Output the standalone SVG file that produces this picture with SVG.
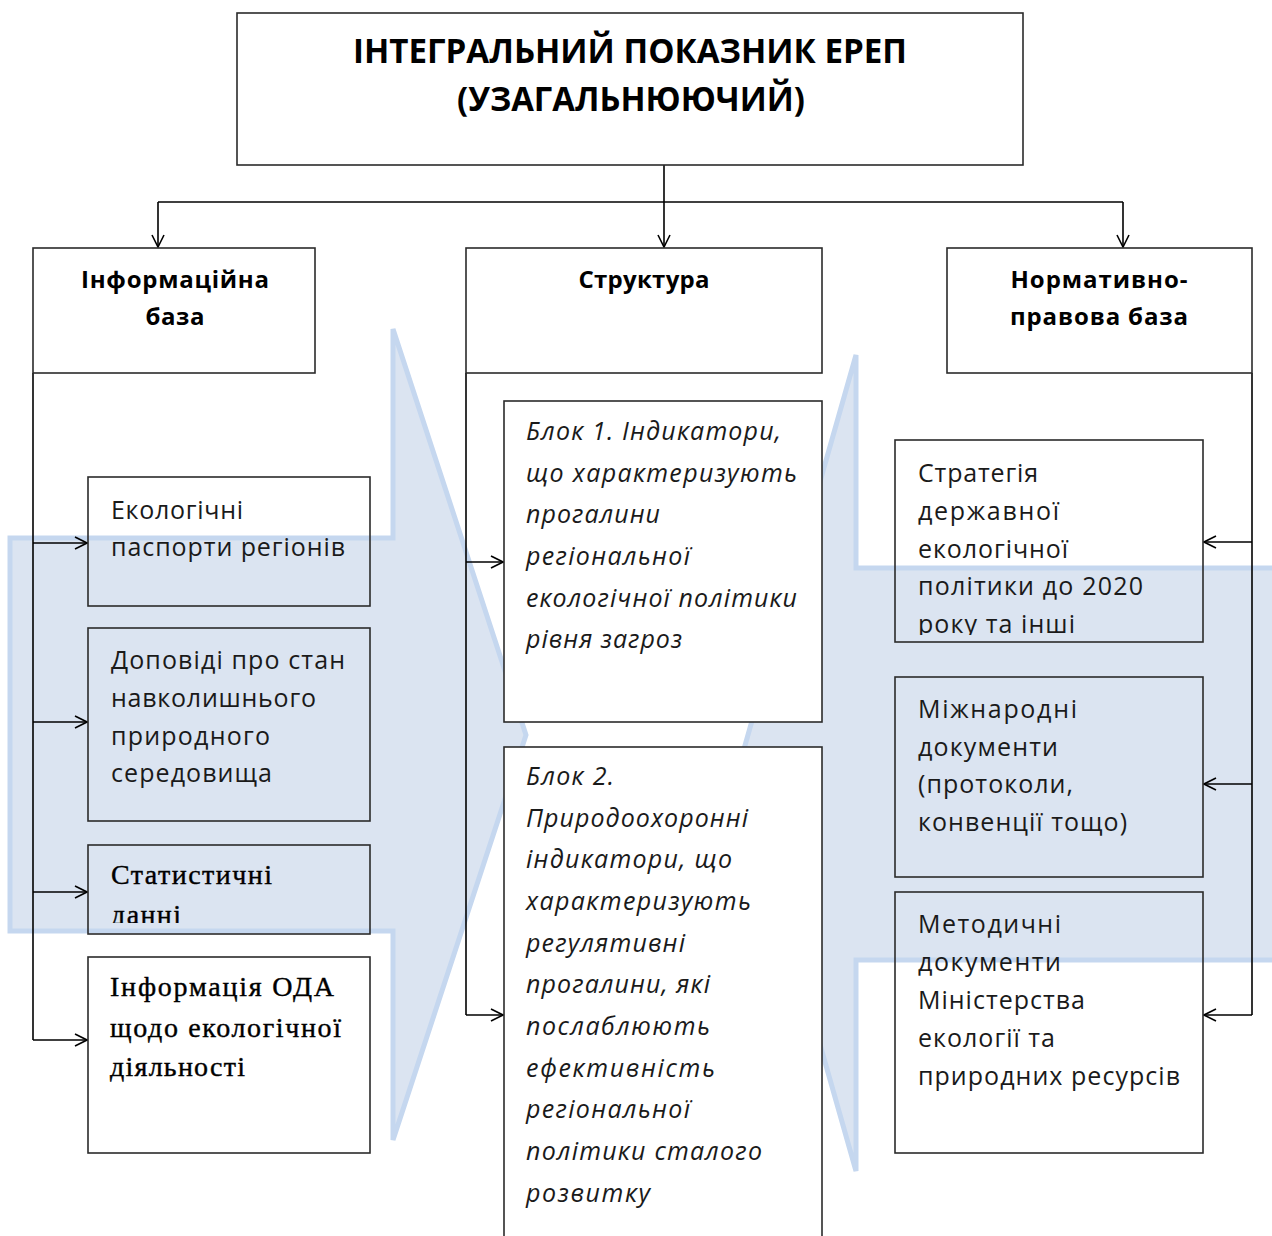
<svg xmlns="http://www.w3.org/2000/svg" width="1272" height="1236" viewBox="0 0 1272 1236">
<style>
.bg{fill:#ffffff}
.big{fill:#dbe4f1;stroke:#c5d7ef;stroke-width:5;stroke-linejoin:miter}
.box{fill:none;stroke:#2b2b2b;stroke-width:1.6}
.wbox{fill:#ffffff;stroke:#2b2b2b;stroke-width:1.6}
.ln{fill:none;stroke:#000;stroke-width:1.6}
.title{font-family:"Open Sans","Liberation Sans",sans-serif;font-weight:bold;font-size:34px;fill:#000}
.hd{font-family:"Open Sans","Liberation Sans",sans-serif;font-weight:bold;font-size:24px;fill:#000}
.tx{font-family:"Open Sans","Liberation Sans",sans-serif;font-size:25px;fill:#1a1a1a}
.it{font-family:"Open Sans","Liberation Sans",sans-serif;font-style:italic;font-size:25px;fill:#1a1a1a}
.sr{font-family:"Liberation Serif","Times New Roman",serif;font-size:28px;fill:#000;stroke:#000;stroke-width:0.4}
</style>
<defs>
<marker id="ah" viewBox="0 0 14 14" refX="13" refY="7" markerWidth="14" markerHeight="14" markerUnits="userSpaceOnUse" orient="auto">
<path d="M1,1 L13,7 L1,13" fill="none" stroke="#000" stroke-width="1.6"/>
</marker>
<clipPath id="clipStat"><rect x="88" y="845" width="282" height="78"/></clipPath>
<clipPath id="clipStrat"><rect x="895" y="440" width="308" height="195"/></clipPath>
</defs>
<rect class="bg" x="0" y="0" width="1272" height="1236"/>

<g id="big-arrows">
<path class="big" d="M10,538 H393 V329 L526,735 L393,1140 V931 H10 Z"/>
<path class="big" d="M1280,568 H856 V355 L740,763 L856,1171 V960 H1280 Z"/>
</g>

<g id="connectors">
<path class="ln" d="M664,165 V247" marker-end="url(#ah)"/>
<path class="ln" d="M158,202 H1123"/>
<path class="ln" d="M158,202 V247" marker-end="url(#ah)"/>
<path class="ln" d="M1123,202 V247" marker-end="url(#ah)"/>
<path class="ln" d="M33,373 V1040"/>
<path class="ln" d="M33,543 H87" marker-end="url(#ah)"/>
<path class="ln" d="M33,722 H87" marker-end="url(#ah)"/>
<path class="ln" d="M33,892 H87" marker-end="url(#ah)"/>
<path class="ln" d="M33,1040 H87" marker-end="url(#ah)"/>
<path class="ln" d="M466,373 V1015"/>
<path class="ln" d="M466,562 H503" marker-end="url(#ah)"/>
<path class="ln" d="M466,1015 H503" marker-end="url(#ah)"/>
<path class="ln" d="M1252,373 V1015"/>
<path class="ln" d="M1252,542 H1204" marker-end="url(#ah)"/>
<path class="ln" d="M1252,784 H1204" marker-end="url(#ah)"/>
<path class="ln" d="M1252,1015 H1204" marker-end="url(#ah)"/>
</g>

<g id="node-title">
<rect class="wbox" x="237" y="13" width="786" height="152"/>
<text class="title" x="630" y="63" text-anchor="middle" textLength="554" lengthAdjust="spacingAndGlyphs">ІНТЕГРАЛЬНИЙ ПОКАЗНИК ЕРЕП</text>
<text class="title" x="631" y="111" text-anchor="middle" textLength="348" lengthAdjust="spacingAndGlyphs">(УЗАГАЛЬНЮЮЧИЙ)</text>
</g>

<g id="node-info">
<rect class="wbox" x="33" y="248" width="282" height="125"/>
<text class="hd" x="175" y="288" text-anchor="middle" textLength="188">Інформаційна</text>
<text class="hd" x="175" y="325" text-anchor="middle" textLength="59">база</text>
</g>

<g id="node-struct">
<rect class="wbox" x="466" y="248" width="356" height="125"/>
<text class="hd" x="644" y="288" text-anchor="middle" textLength="131">Структура</text>
</g>

<g id="node-norm">
<rect class="wbox" x="947" y="248" width="305" height="125"/>
<text class="hd" x="1099" y="288" text-anchor="middle" textLength="177">Нормативно-</text>
<text class="hd" x="1099" y="325" text-anchor="middle" textLength="178">правова база</text>
</g>

<g id="node-eco">
<rect class="box" x="88" y="477" width="282" height="129"/>
<text class="tx" x="111" y="519" textLength="132">Екологічні</text>
<text class="tx" x="111" y="556" textLength="234">паспорти регіонів</text>
</g>

<g id="node-dop">
<rect class="box" x="88" y="628" width="282" height="193"/>
<text class="tx" x="111" y="669" textLength="234">Доповіді про стан</text>
<text class="tx" x="111" y="707" textLength="205">навколишнього</text>
<text class="tx" x="111" y="745" textLength="159">природного</text>
<text class="tx" x="111" y="782" textLength="161">середовища</text>
</g>

<g id="node-stat">
<rect class="box" x="88" y="845" width="282" height="89"/>
<g clip-path="url(#clipStat)">
<text class="sr" x="111" y="884" textLength="161">Статистичні</text>
<text class="sr" x="111" y="924" textLength="70">данні</text>
</g>
</g>

<g id="node-oda">
<rect class="wbox" x="88" y="957" width="282" height="196"/>
<text class="sr" x="110" y="996" textLength="224">Інформація ОДА</text>
<text class="sr" x="110" y="1037" textLength="231">щодо екологічної</text>
<text class="sr" x="110" y="1076" textLength="135">діяльності</text>
</g>

<g id="node-blok1">
<rect class="wbox" x="504" y="401" width="318" height="321"/>
<text class="it" x="526" y="440" textLength="255">Блок 1. Індикатори,</text>
<text class="it" x="526" y="482" textLength="271">що характеризують</text>
<text class="it" x="526" y="523" textLength="134">прогалини</text>
<text class="it" x="526" y="565" textLength="164">регіональної</text>
<text class="it" x="526" y="607" textLength="271">екологічної політики</text>
<text class="it" x="526" y="648" textLength="156">рівня загроз</text>
</g>

<g id="node-blok2">
<rect class="wbox" x="504" y="747" width="318" height="500"/>
<text class="it" x="526" y="785" textLength="88">Блок 2.</text>
<text class="it" x="526" y="827" textLength="222">Природоохоронні</text>
<text class="it" x="526" y="868" textLength="206">індикатори, що</text>
<text class="it" x="526" y="910" textLength="225">характеризують</text>
<text class="it" x="526" y="952" textLength="159">регулятивні</text>
<text class="it" x="526" y="993" textLength="184">прогалини, які</text>
<text class="it" x="526" y="1035" textLength="184">послаблюють</text>
<text class="it" x="526" y="1077" textLength="189">ефективність</text>
<text class="it" x="526" y="1118" textLength="164">регіональної</text>
<text class="it" x="526" y="1160" textLength="236">політики сталого</text>
<text class="it" x="526" y="1202" textLength="124">розвитку</text>
</g>

<g id="node-strat">
<rect class="box" x="895" y="440" width="308" height="202"/>
<g clip-path="url(#clipStrat)">
<text class="tx" x="918" y="482" textLength="120">Стратегія</text>
<text class="tx" x="918" y="520" textLength="141">державної</text>
<text class="tx" x="918" y="558" textLength="150">екологічної</text>
<text class="tx" x="918" y="595" textLength="225">політики до 2020</text>
<text class="tx" x="918" y="633" textLength="157">року та інші</text>
</g>
</g>

<g id="node-mizh">
<rect class="box" x="895" y="677" width="308" height="200"/>
<text class="tx" x="918" y="718" textLength="159">Міжнародні</text>
<text class="tx" x="918" y="756" textLength="140">документи</text>
<text class="tx" x="918" y="793" textLength="155">(протоколи,</text>
<text class="tx" x="918" y="831" textLength="209">конвенції тощо)</text>
</g>

<g id="node-metod">
<rect class="box" x="895" y="892" width="308" height="261"/>
<text class="tx" x="918" y="933" textLength="143">Методичні</text>
<text class="tx" x="918" y="971" textLength="143">документи</text>
<text class="tx" x="918" y="1009" textLength="167">Міністерства</text>
<text class="tx" x="918" y="1047" textLength="137">екології та</text>
<text class="tx" x="918" y="1085" textLength="262">природних ресурсів</text>
</g>
</svg>
